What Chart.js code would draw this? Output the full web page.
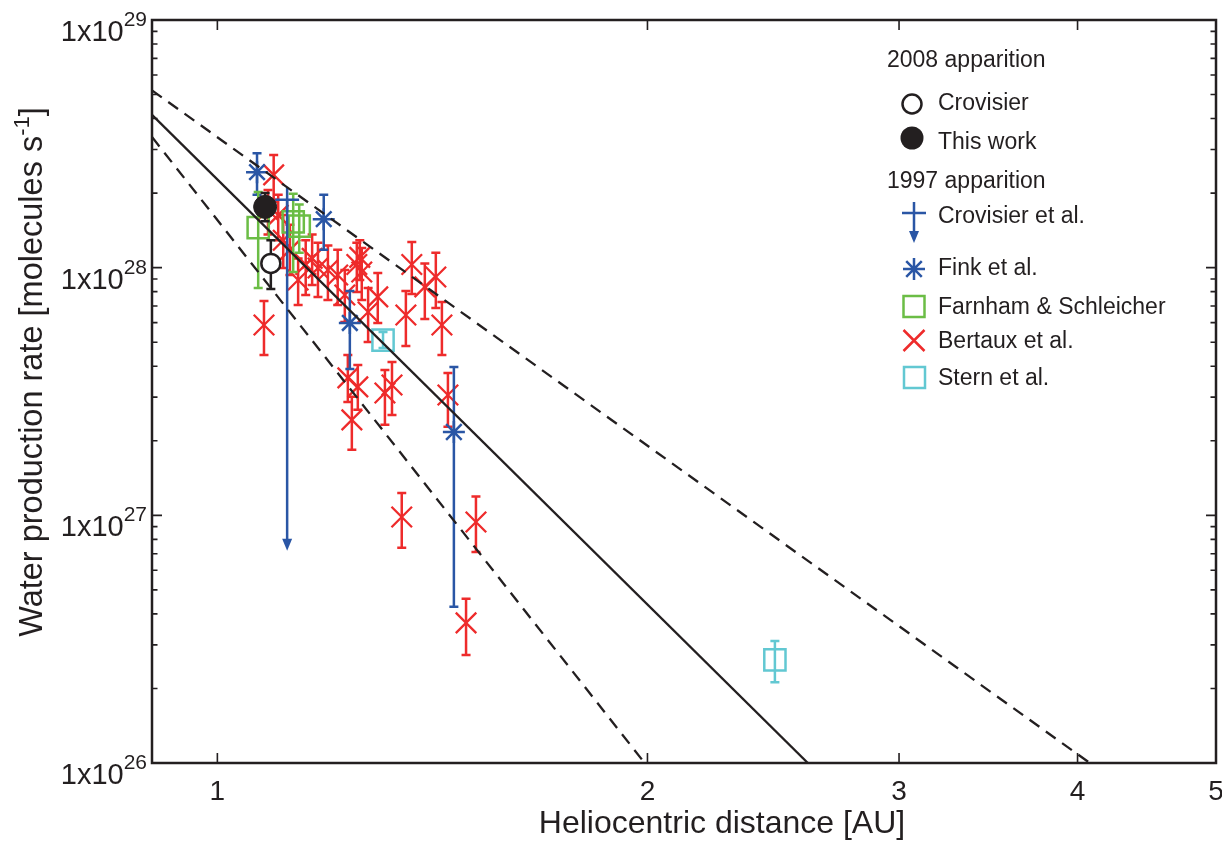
<!DOCTYPE html>
<html><head><meta charset="utf-8">
<script src="https://cdn.jsdelivr.net/npm/chart.js@4.4.0/dist/chart.umd.min.js"></script>
<style>html,body{margin:0;padding:0;background:#fff;overflow:hidden}canvas{display:block}</style>
</head><body>
<canvas id="c" width="1222" height="842" style="width:1222px;height:842px"></canvas>
<script>
// ---------- data ----------
const xTicks = [1, 2, 3, 4, 5];
const yTickValues = [1e26, 1e27, 1e28, 1e29];
const yTickExponents = ['26', '27', '28', '29'];

// 2008 apparition
const crovisier08R = [1.090];
const crovisier08Q = [1.04e28];
const crovisier08Lo = [8.2e27];
const crovisier08Hi = [1.29e28];

const thisWorkR = [1.080];
const thisWorkQ = [1.76e28];
const thisWorkLo = [1.54e28];
const thisWorkHi = [2.0e28];

// 1997 apparition
const crovisier97R = [1.119];
const crovisier97Q = [1.88e28];
const crovisier97Limit = [7.2e26];

const finkR = [1.066, 1.187, 1.238, 1.464];
const finkQ = [2.43e28, 1.57e28, 5.98e27, 2.17e27];
const finkLo = [1.97e28, 1.18e28, 3.90e27, 4.27e26];
const finkHi = [2.90e28, 1.97e28, 8.05e27, 3.97e27];

const farnhamR = [1.068, 1.130, 1.141];
const farnhamQ = [1.45e28, 1.53e28, 1.47e28];
const farnhamLo = [8.28e27, 9.61e27, 1.15e28];
const farnhamHi = [2.02e28, 1.99e28, 1.80e28];

const bertauxR = [1.078, 1.095, 1.085, 1.103, 1.112, 1.124, 1.139, 1.153, 1.165, 1.176,
  1.195, 1.214, 1.228, 1.252, 1.258, 1.262, 1.275, 1.295, 1.355, 1.368,
  1.397, 1.422, 1.436, 1.234, 1.242, 1.254, 1.310, 1.325, 1.450, 1.346,
  1.517, 1.493];
const bertauxQ = [5.87e27, 2.37e28, 1.71e28, 1.63e28, 1.29e28, 1.18e28, 8.92e27, 1.03e28, 1.09e28, 9.97e27,
  9.79e27, 9.34e27, 7.76e27, 1.03e28, 1.10e28, 9.61e27, 6.62e27, 7.62e27, 6.44e27, 1.03e28,
  8.36e27, 9.17e27, 5.87e27, 3.59e27, 2.43e27, 3.30e27, 3.12e27, 3.36e27, 3.06e27, 9.85e26,
  9.40e26, 3.68e26];
const bertauxLo = [4.44e27, 1.88e28, 1.36e28, 1.29e28, 9.97e27, 9.34e27, 7.07e27, 7.76e27, 8.51e27, 7.62e27,
  7.41e27, 7.07e27, 6.04e27, 7.98e27, 8.92e27, 7.41e27, 5.01e27, 5.98e27, 4.83e27, 7.83e27,
  6.21e27, 6.88e27, 4.44e27, 2.87e27, 1.84e27, 2.67e27, 2.32e27, 2.54e27, 2.28e27, 7.39e26,
  7.11e26, 2.73e26];
const bertauxHi = [7.34e27, 2.85e28, 2.06e28, 1.97e28, 1.63e28, 1.49e28, 1.09e28, 1.29e28, 1.36e28, 1.26e28,
  1.23e28, 1.18e28, 9.79e27, 1.26e28, 1.29e28, 1.20e28, 8.28e27, 9.52e27, 8.05e27, 1.27e28,
  1.04e28, 1.15e28, 7.27e27, 4.44e27, 3.01e27, 4.05e27, 3.86e27, 4.16e27, 3.76e27, 1.23e27,
  1.19e27, 4.60e26];

const sternR = [1.306, 2.456];
const sternQ = [5.1e27, 2.61e26];
const sternLo = [4.74e27, 2.12e26];
const sternHi = [5.5e27, 3.11e26];

// power-law fit and its bounds
const fitR = [0.9, 2.59];
const fitQ = [4.14e28, 1e26];
const upperR = [0.9, 4.08];
const upperQ = [5.2e28, 1e26];
const lowerR = [0.9, 1.991];
const lowerQ = [3.37e28, 1e26];

// ---------- styling ----------
const BLACK = '#231f20', BLUE = '#2a56a5', RED = '#ee2b2b', GREEN = '#6bbd45', CYAN = '#62c8d2';
const FONT = '"Liberation Sans", Arial, Helvetica, sans-serif';

const pts = (xs, ys) => xs.map((x, i) => ({x: x, y: ys[i]}));

const errPlugin = {
  id: 'errbars',
  beforeDatasetDraw(chart, args) {
    const ds = chart.data.datasets[args.index];
    if (!ds.errLo && !ds.limit) return;
    const ctx = chart.ctx, xs = chart.scales.x, ys = chart.scales.y, a = chart.chartArea;
    ctx.save();
    ctx.beginPath(); ctx.rect(a.left, a.top, a.right - a.left, a.bottom - a.top); ctx.clip();
    ctx.strokeStyle = ds.borderColor; ctx.fillStyle = ds.borderColor;
    ctx.lineWidth = 2.5; ctx.lineCap = 'butt';
    ds.data.forEach((p, i) => {
      const px = xs.getPixelForValue(p.x);
      if (ds.errLo) {
        const y1 = ys.getPixelForValue(ds.errHi[i]), y2 = ys.getPixelForValue(ds.errLo[i]);
        ctx.beginPath();
        ctx.moveTo(px, y1); ctx.lineTo(px, y2);
        ctx.moveTo(px - 4.5, y1); ctx.lineTo(px + 4.5, y1);
        ctx.moveTo(px - 4.5, y2); ctx.lineTo(px + 4.5, y2);
        ctx.stroke();
      }
      if (ds.limit) {
        const py = ys.getPixelForValue(p.y), yl = ys.getPixelForValue(ds.limit[i]);
        ctx.beginPath(); ctx.moveTo(px, py); ctx.lineTo(px, yl - 10); ctx.stroke();
        ctx.beginPath(); ctx.moveTo(px - 5, yl - 12); ctx.lineTo(px + 5, yl - 12); ctx.lineTo(px, yl); ctx.closePath(); ctx.fill();
      }
    });
    ctx.restore();
  }
};

const framePlugin = {
  id: 'frame',
  afterDraw(chart) {
    const ctx = chart.ctx, a = chart.chartArea, xs = chart.scales.x, ys = chart.scales.y;
    ctx.save();
    ctx.strokeStyle = BLACK; ctx.fillStyle = BLACK;
    // ticks
    ctx.lineWidth = 1.6;
    ctx.beginPath();
    for (let e = 26; e <= 28; e++) {
      for (let m = 1; m <= 9; m++) {
        const v = m * Math.pow(10, e);
        const y = ys.getPixelForValue(v);
        const len = m === 1 ? 10 : 5.5;
        ctx.moveTo(a.left, y); ctx.lineTo(a.left + len, y);
        ctx.moveTo(a.right, y); ctx.lineTo(a.right - len, y);
      }
    }
    xTicks.forEach(t => {
      const x = xs.getPixelForValue(t);
      ctx.moveTo(x, a.bottom); ctx.lineTo(x, a.bottom - 10);
      ctx.moveTo(x, a.top); ctx.lineTo(x, a.top + 10);
    });
    ctx.stroke();
    // frame
    ctx.lineWidth = 2.5;
    ctx.strokeRect(a.left, a.top, a.right - a.left, a.bottom - a.top);

    // y tick labels 1x10^n
    ctx.textAlign = 'right'; ctx.textBaseline = 'alphabetic';
    yTickValues.forEach((v, i) => {
      const y = ys.getPixelForValue(v);
      ctx.font = '21px ' + FONT;
      const sw = ctx.measureText(yTickExponents[i]).width;
      const xr = a.left - 5;
      ctx.fillText(yTickExponents[i], xr, y + 6);
      ctx.font = '29px ' + FONT;
      ctx.fillText('1x10', xr - sw, y + 21);
    });
    // x tick labels
    ctx.font = '28px ' + FONT; ctx.textAlign = 'center';
    xTicks.forEach(t => {
      ctx.fillText(String(t), xs.getPixelForValue(t), 800);
    });
    // x title
    ctx.font = '32px ' + FONT;
    ctx.fillText('Heliocentric distance [AU]', 722, 833);
    // y title (rotated) with superscript
    ctx.save();
    ctx.translate(42, 372);
    ctx.rotate(-Math.PI / 2);
    ctx.textAlign = 'left';
    const t1 = 'Water production rate [molecules s';
    ctx.font = '32.5px ' + FONT;
    const w1 = ctx.measureText(t1).width;
    ctx.font = '22px ' + FONT;
    const w2 = ctx.measureText('-1').width;
    ctx.font = '32.5px ' + FONT;
    const w3 = ctx.measureText(']').width;
    const start = -(w1 + w2 + w3) / 2;
    ctx.fillText(t1, start, 0);
    ctx.font = '22px ' + FONT;
    ctx.fillText('-1', start + w1, -13);
    ctx.font = '32.5px ' + FONT;
    ctx.fillText(']', start + w1 + w2, 0);
    ctx.restore();

    // legend
    ctx.font = '23px ' + FONT; ctx.textAlign = 'left'; ctx.textBaseline = 'middle';
    const tx = 938, sx = 914;
    ctx.fillText('2008 apparition', 887, 61);
    ctx.fillText('Crovisier', tx, 104);
    ctx.fillText('This work', tx, 143);
    ctx.fillText('1997 apparition', 887, 182);
    ctx.fillText('Crovisier et al.', tx, 217);
    ctx.fillText('Fink et al.', tx, 269);
    ctx.fillText('Farnham & Schleicher', tx, 308);
    ctx.fillText('Bertaux et al.', tx, 342);
    ctx.fillText('Stern et al.', tx, 379);
    // symbols
    ctx.lineWidth = 2.5;
    ctx.strokeStyle = BLACK;
    ctx.beginPath(); ctx.arc(sx - 2, 104, 9.5, 0, Math.PI * 2); ctx.stroke();
    ctx.beginPath(); ctx.arc(sx - 2, 138, 11.5, 0, Math.PI * 2); ctx.fill();
    ctx.strokeStyle = BLUE; ctx.fillStyle = BLUE;
    ctx.beginPath();
    ctx.moveTo(sx - 12, 213); ctx.lineTo(sx + 12, 213);
    ctx.moveTo(sx, 202); ctx.lineTo(sx, 232);
    ctx.stroke();
    ctx.beginPath(); ctx.moveTo(sx - 5, 231); ctx.lineTo(sx + 5, 231); ctx.lineTo(sx, 243); ctx.closePath(); ctx.fill();
    ctx.beginPath();
    const r = 11, d = r * Math.SQRT1_2, cy = 269;
    ctx.moveTo(sx - r, cy); ctx.lineTo(sx + r, cy);
    ctx.moveTo(sx, cy - r); ctx.lineTo(sx, cy + r);
    ctx.moveTo(sx - d, cy - d); ctx.lineTo(sx + d, cy + d);
    ctx.moveTo(sx - d, cy + d); ctx.lineTo(sx + d, cy - d);
    ctx.stroke();
    ctx.strokeStyle = GREEN; ctx.strokeRect(sx - 10.5, 296, 21, 21);
    ctx.strokeStyle = RED;
    ctx.beginPath();
    ctx.moveTo(sx - 10.5, 330); ctx.lineTo(sx + 10.5, 351);
    ctx.moveTo(sx - 10.5, 351); ctx.lineTo(sx + 10.5, 330);
    ctx.stroke();
    ctx.strokeStyle = CYAN; ctx.strokeRect(sx - 10, 367, 21, 21);
    ctx.restore();
  }
};

const lineDs = (label, xs, ys, dash, order) => ({
  type: 'scatter', label, data: pts(xs, ys), showLine: true, pointRadius: 0,
  borderColor: BLACK, borderWidth: 2.3, borderDash: dash, fill: false, order
});

new Chart(document.getElementById('c'), {
  type: 'scatter',
  data: {
    datasets: [
      lineDs('Fit', fitR, fitQ, [], 0),
      lineDs('Upper bound', upperR, upperQ, [12, 8], 0),
      lineDs('Lower bound', lowerR, lowerQ, [12, 8], 0),
      { label: 'This work', data: pts(thisWorkR, thisWorkQ), errLo: thisWorkLo, errHi: thisWorkHi,
        pointStyle: 'circle', pointRadius: 11.5, borderColor: BLACK, backgroundColor: BLACK, borderWidth: 1, order: 1 },
      { label: 'Crovisier', data: pts(crovisier08R, crovisier08Q), errLo: crovisier08Lo, errHi: crovisier08Hi,
        pointStyle: 'circle', pointRadius: 9.5, borderColor: BLACK, backgroundColor: '#ffffff', borderWidth: 2.5, order: 2 },
      { label: 'Crovisier et al.', data: pts(crovisier97R, crovisier97Q), limit: crovisier97Limit,
        pointStyle: 'cross', pointRadius: 12, borderColor: BLUE, backgroundColor: BLUE, borderWidth: 2.5, order: 3 },
      { label: 'Stern et al.', data: pts(sternR, sternQ), errLo: sternLo, errHi: sternHi,
        pointStyle: 'rect', pointRadius: 15, borderColor: CYAN, backgroundColor: 'rgba(0,0,0,0)', borderWidth: 2.5, order: 4 },
      { label: 'Farnham & Schleicher', data: pts(farnhamR, farnhamQ), errLo: farnhamLo, errHi: farnhamHi,
        pointStyle: 'rect', pointRadius: 15, borderColor: GREEN, backgroundColor: 'rgba(0,0,0,0)', borderWidth: 2.5, order: 5 },
      { label: 'Fink et al.', data: pts(finkR, finkQ), errLo: finkLo, errHi: finkHi,
        pointStyle: 'star', pointRadius: 11, borderColor: BLUE, backgroundColor: BLUE, borderWidth: 2.5, order: 6 },
      { label: 'Bertaux et al.', data: pts(bertauxR, bertauxQ), errLo: bertauxLo, errHi: bertauxHi,
        pointStyle: 'crossRot', pointRadius: 14.5, borderColor: RED, backgroundColor: RED, borderWidth: 2.3, order: 7 }
    ]
  },
  options: {
    responsive: false,
    maintainAspectRatio: false,
    animation: false,
    events: [],
    layout: { autoPadding: false, padding: { left: 152, top: 20, right: 6, bottom: 79 } },
    scales: {
      x: { type: 'logarithmic', min: 0.9, max: 5, display: false },
      y: { type: 'logarithmic', min: 1e26, max: 1e29, display: false }
    },
    plugins: { legend: { display: false }, tooltip: { enabled: false } }
  },
  plugins: [errPlugin, framePlugin]
});
</script>
</body></html>
